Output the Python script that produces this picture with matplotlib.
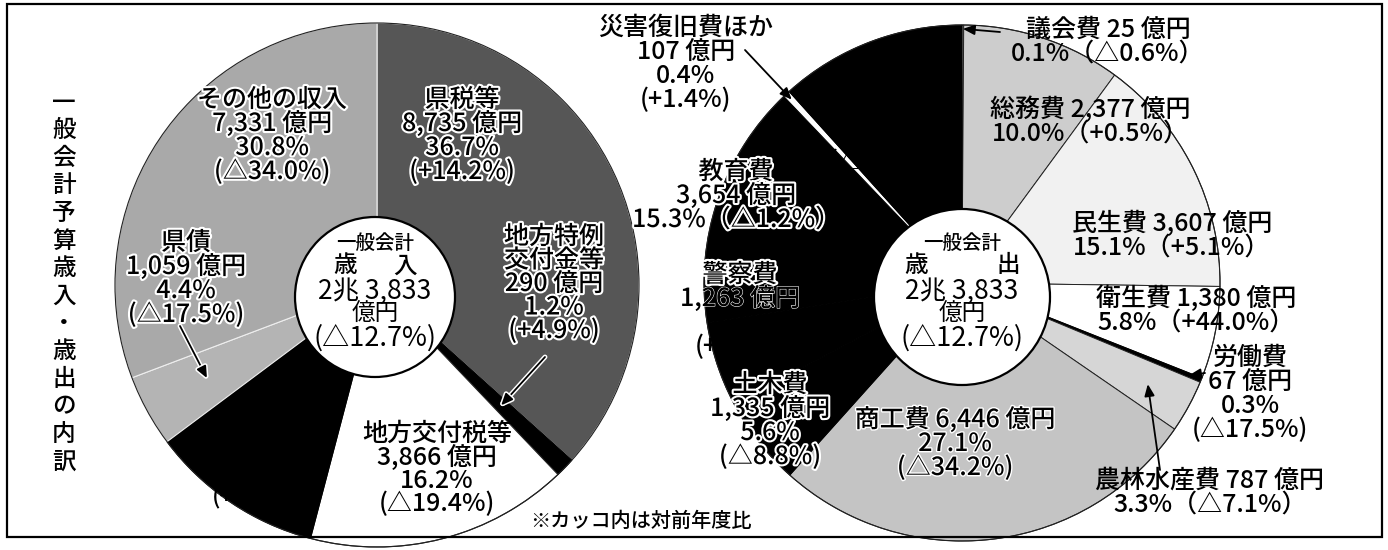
import matplotlib
matplotlib.use("Agg")
import matplotlib.pyplot as plt
import matplotlib.patheffects as pe
from matplotlib.patches import Circle, Rectangle
import numpy as np

plt.rcParams['font.family'] = ['Noto Sans CJK JP', 'DejaVu Sans']

# ---------------- data ----------------
total_value = 23833          # 億円
total_label = "2兆 3,833"
total_change = "△12.7"

rev_labels = ['県税等', '地方特例交付金等', '地方交付税等', '国庫支出金', '県債', 'その他の収入']
rev_values = [8735, 290, 3866, 2552, 1059, 7331]
rev_pct = [36.7, 1.2, 16.2, 10.7, 4.4, 30.8]
rev_change = ['+14.2', '+4.9', '△19.4', '+13.6', '△17.5', '△34.0']

exp_labels = ['議会費', '総務費', '民生費', '衛生費', '労働費', '農林水産費',
              '商工費', '土木費', '警察費', '教育費', '災害復旧費ほか', '公債費']
exp_values = [25, 2377, 3607, 1380, 67, 787, 6446, 1335, 1263, 3654, 107, 2785]
exp_pct = [0.1, 10.0, 15.1, 5.8, 0.3, 3.3, 27.1, 5.6, 5.3, 15.3, 0.4, 11.7]
exp_change = ['△0.6', '+0.5', '+5.1', '+44.0', '△17.5', '△7.1',
              '△34.2', '△8.8', '+1.0', '△1.2', '+1.4', '△2.0']

title_text = "一般会計予算歳入・歳出の内訳"
note_text = "※カッコ内は対前年度比"

# ---------------- styles / layout ----------------
rev_colors = ['#565656', '#000000', '#ffffff', '#000000', '#b4b4b4', '#a9a9a9']
exp_colors = ['#cfcfcf', '#cdcdcd', '#f1f1f1', '#ffffff', '#000000', '#d6d6d6',
              '#c4c4c4', '#000000', '#000000', '#000000', '#ffffff', '#000000']
rev_edges = ['#eeeeee', '#000000', '#222222', '#000000', '#eeeeee', '#eeeeee']
exp_edges = ['#222222', '#222222', '#222222', '#222222', '#000000', '#222222',
             '#222222', '#000000', '#000000', '#000000', '#000000', '#000000']

W, H = 1388, 550
fig = plt.figure(figsize=(W / 100, H / 100), dpi=100)
ax = fig.add_axes([0, 0, 1, 1])


def P(y):
    return H - y


L_C = (377, 285); L_R = 262; L_IN_C = (375, 297); L_IN_R = 80
R_C = (962, 283); R_R = 258; R_IN_C = (962, 297); R_IN_R = 88

wl, _ = ax.pie(rev_values, center=(L_C[0], P(L_C[1])), radius=L_R, startangle=90,
               counterclock=False, colors=rev_colors, frame=True,
               wedgeprops=dict(linewidth=0.8))
for w, ec in zip(wl, rev_edges):
    w.set_edgecolor(ec)
wr, _ = ax.pie(exp_values, center=(R_C[0], P(R_C[1])), radius=R_R, startangle=90,
               counterclock=False, colors=exp_colors, frame=True,
               wedgeprops=dict(linewidth=0.7))
for w, ec in zip(wr, exp_edges):
    w.set_edgecolor(ec)
# thin outer outline
for c, r in [(L_C, L_R), (R_C, R_R)]:
    ax.add_patch(Circle((c[0], P(c[1])), r, facecolor='none', edgecolor='#222222',
                        linewidth=0.8, zorder=2))

for (c, r) in [(L_IN_C, L_IN_R), (R_IN_C, R_IN_R)]:
    ax.add_patch(Circle((c[0], P(c[1])), r, facecolor='white', edgecolor='black',
                        linewidth=1.6, zorder=5))


def wedge_point(values, idx, center, radius, frac_r):
    cum = np.cumsum([0] + list(values)) / np.sum(values)
    mid = (cum[idx] + cum[idx + 1]) / 2 * 2 * np.pi
    return center[0] + frac_r * radius * np.sin(mid), P(center[1]) + frac_r * radius * np.cos(mid)


FS = 18


def block(x, y0, lines, size=FS, step=24, halo=0, zorder=8):
    if not isinstance(halo, (list, tuple)):
        halo = [halo] * len(lines)
    for i, s in enumerate(lines):
        t = ax.text(x, P(y0 + i * step), s, fontsize=size, ha='center', va='center',
                    color='black', zorder=zorder, fontweight='medium')
        if halo[i]:
            t.set_path_effects([pe.withStroke(linewidth=halo[i], foreground='white')])


def arrow(tail, tip, halo=False, lw=1.3):
    a = ax.annotate('', xy=tip, xytext=(tail[0], P(tail[1])),
                    arrowprops=dict(arrowstyle='-|>,head_length=0.7,head_width=0.3',
                                    color='black', lw=lw, shrinkA=0, shrinkB=0), zorder=9)
    if halo:
        a.arrow_patch.set_path_effects([pe.withStroke(linewidth=3.5, foreground='white')])


def four(lbl, v, p, c):
    return [lbl, f"{v:,} 億円", f"{p}%", f"({c}%)"]


# ---------- left pie labels ----------
block(462, 100, four(rev_labels[0], rev_values[0], rev_pct[0], rev_change[0]), halo=3)
block(272, 100, four(rev_labels[5], rev_values[5], rev_pct[5], rev_change[5]), halo=3)
block(186, 243, four(rev_labels[4], rev_values[4], rev_pct[4], rev_change[4]), halo=3)
block(554, 237, [rev_labels[1][:4], rev_labels[1][4:], f"{rev_values[1]:,} 億円",
                 f"{rev_pct[1]}%", f"({rev_change[1]}%)"], step=23.5, halo=3)
block(437, 434, four(rev_labels[2], rev_values[2], rev_pct[2], rev_change[2]), step=23.5)
block(262, 428, four(rev_labels[3], rev_values[3], rev_pct[3], rev_change[3]),
      size=17, step=23, zorder=3)

arrow((545, 357), wedge_point(rev_values, 1, L_C, L_R, 0.66), halo=True)
arrow((180, 326), wedge_point(rev_values, 4, L_C, L_R, 0.74), halo=True)

# center texts
for (cx, kinds, dx) in [(L_IN_C[0], ('歳', '入'), 30), (R_IN_C[0], ('歳', '出'), 46)]:
    ax.text(cx, P(243), '一般会計', fontsize=14, ha='center', va='center', zorder=8,
            fontweight='medium')
    ax.text(cx - dx, P(266), kinds[0], fontsize=17, ha='center', va='center', zorder=8,
            fontweight='medium')
    ax.text(cx + dx, P(266), kinds[1], fontsize=17, ha='center', va='center', zorder=8,
            fontweight='medium')
    ax.text(cx, P(291), total_label, fontsize=19, ha='center', va='center', zorder=8)
    ax.text(cx, P(314), '億円', fontsize=17, ha='center', va='center', zorder=8)
    ax.text(cx, P(338), f"({total_change}%)", fontsize=19.5, ha='center', va='center', zorder=8)

# ---------- right pie labels ----------
def two(i):
    return [f"{exp_labels[i]} {exp_values[i]:,} 億円", f"{exp_pct[i]}%（{exp_change[i]}%）"]


block(1108, 30, two(0))
block(1090, 110, two(1))
block(1172, 224, two(2))
block(1196, 299, two(3))
block(1250, 358, four(exp_labels[4], exp_values[4], exp_pct[4], exp_change[4]))
block(1210, 481, two(5))
block(955, 420, [f"{exp_labels[6]} {exp_values[6]:,} 億円", f"{exp_pct[6]}%",
                 f"({exp_change[6]}%)"], halo=2)
block(770, 385, four(exp_labels[7], exp_values[7], exp_pct[7], exp_change[7]), halo=3)
block(740, 275, four(exp_labels[8], exp_values[8], exp_pct[8], exp_change[8]),
      halo=[3, 0.8, 0, 0])
block(736, 172, [exp_labels[9], f"{exp_values[9]:,} 億円",
                 f"{exp_pct[9]}%（{exp_change[9]}%）"], halo=3)
block(686, 28, four(exp_labels[10], exp_values[10], exp_pct[10], exp_change[10]))
block(880, 90, four(exp_labels[11], exp_values[11], exp_pct[11], exp_change[11]), zorder=3)

arrow((1000, 32), wedge_point(exp_values, 0, R_C, R_R, 0.985))
arrow((745, 50), wedge_point(exp_values, 10, R_C, R_R, 0.97))
arrow((1205, 373), wedge_point(exp_values, 4, R_C, R_R, 0.95))
arrow((1160, 470), wedge_point(exp_values, 5, R_C, R_R, 0.82))

# ---------- title & note ----------
for i, ch in enumerate(title_text):
    ax.text(64, P(103 + i * 27.6), ch, fontsize=17, ha='center', va='center',
            fontweight='medium')
ax.text(641, P(521), note_text, fontsize=14.5, ha='center', va='center', fontweight='medium')

ax.add_patch(Rectangle((7, P(537)), 1375, 533, facecolor='none', edgecolor='black',
                       linewidth=1.6, zorder=10))

ax.set_xlim(0, W)
ax.set_ylim(0, H)
ax.set_aspect('equal')
ax.axis('off')
fig.savefig('out.png', dpi=100)
